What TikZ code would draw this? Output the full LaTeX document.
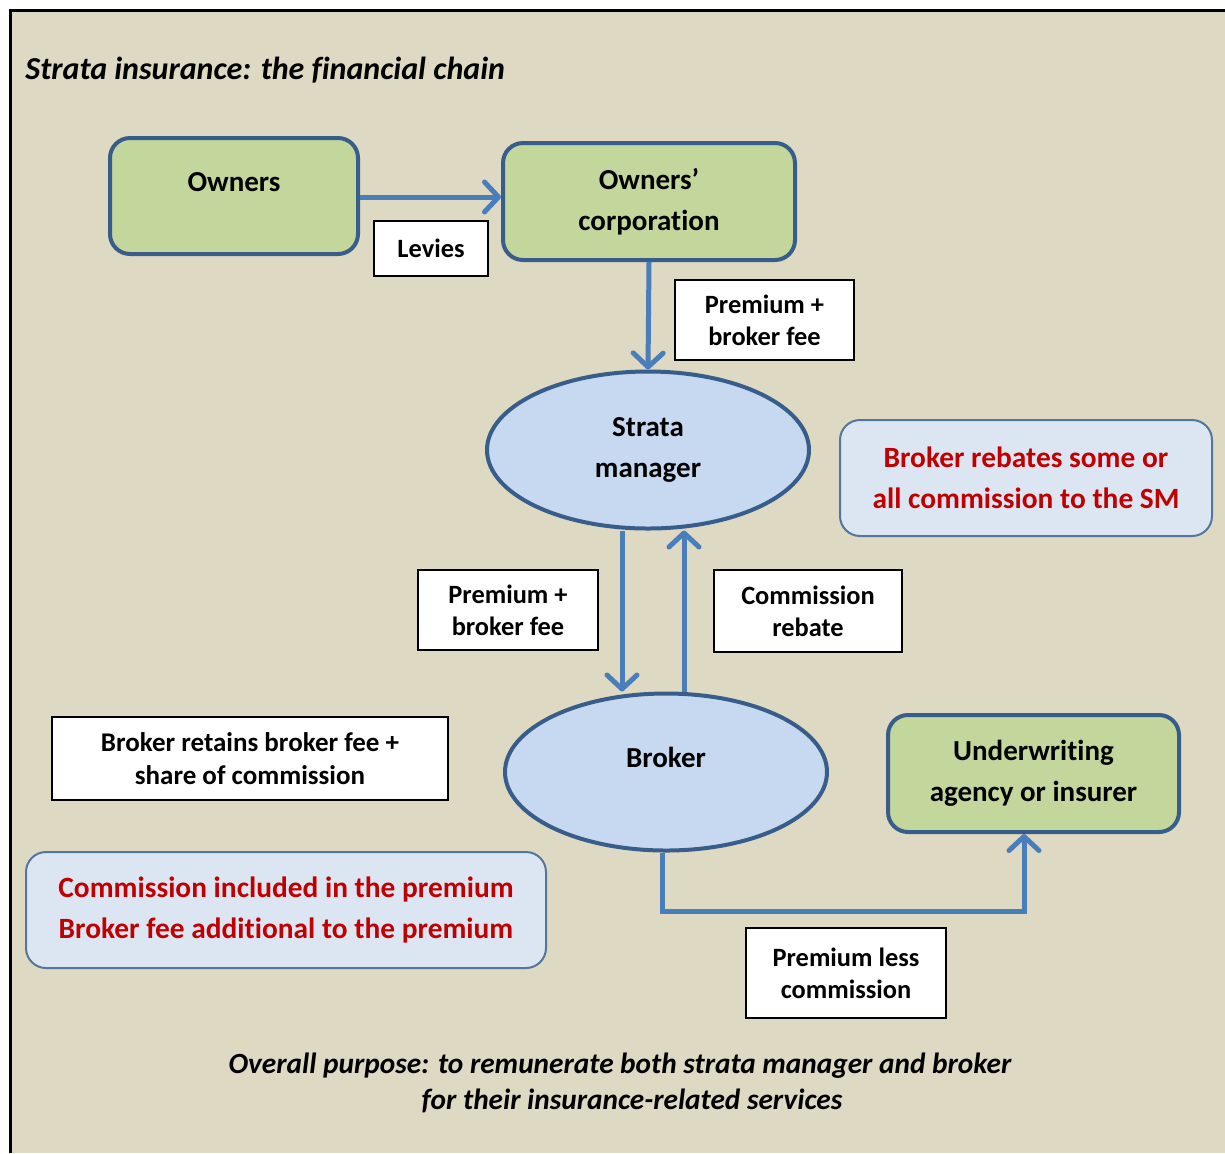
\documentclass[tikz,border=0pt]{standalone}
\usepackage{fontspec}
\setmainfont{Carlito}[Ligatures={NoCommon}]
\usetikzlibrary{arrows.meta,positioning,shapes.geometric,calc}
\definecolor{bgtan}{HTML}{DDD9C3}
\definecolor{leaf}{HTML}{C3D69B}
\definecolor{rim}{HTML}{385D8A}
\definecolor{flowblue}{HTML}{4A7EBB}
\definecolor{sky}{HTML}{C6D9F1}
\definecolor{pale}{HTML}{DCE6F2}
\definecolor{alert}{HTML}{C00000}

\begin{document}
\begin{tikzpicture}[x=0.5pt, y=-0.5pt, party/.style={draw=rim, line width=2pt, fill=leaf, rounded corners=10pt, inner sep=0pt, align=center, font=\fontsize{14.5}{20.5}\selectfont\bfseries}, hub/.style={ellipse, draw=rim, line width=2pt, fill=sky, minimum width=161pt, minimum height=78.5pt, inner sep=0pt, align=center, font=\fontsize{14.5}{20.5}\selectfont\bfseries}, tag/.style={draw, line width=0.6pt, fill=white, inner sep=0pt, align=center, font=\fontsize{13.2}{16}\selectfont\bfseries}, note/.style={draw=rim!85, line width=1pt, fill=pale, rounded corners=10pt, inner sep=0pt, align=center, text=alert, font=\fontsize{14.7}{20.5}\selectfont\bfseries}, flow/.style={flowblue, line width=2.5pt}, >={Straight Barb[length=7pt,width=15pt,round]}]
\useasboundingbox (0,0) rectangle (1225,1153);
\fill[bgtan] (10,10) rectangle (1225,1153);
\draw[line width=1.5pt] (10,1153) -- (10,10) -- (1225,10);
\node[anchor=west, inner sep=0pt, font=\fontsize{16}{19}\selectfont\bfseries\itshape] (title) at (25,70) {Strata insurance: the financial chain};
\node[party, minimum width=124pt, minimum height=58pt] (own) at (234,196) {Owners\\[-6pt]~};
\node[party, minimum width=146pt, minimum height=58.5pt] (oc) at (649,201.5) {Owners’\\corporation};
\node[hub] (sm) at (648,450) {Strata\\manager};
\node[hub] (brk) at (666,772) {Broker\\[-6pt]~};
\node[party, minimum width=145.5pt, minimum height=58.5pt] (uw) at (1033.5,773.5) {Underwriting\\agency or insurer};
\node[note, minimum width=186pt, minimum height=58pt] (rebnote) at (1026,478) {Broker rebates some or\\all commission to the SM};
\node[note, minimum width=260pt, minimum height=58pt] (feenote) at (286,910) {Commission included in the premium\\Broker fee additional to the premium};
\node[tag, minimum width=57pt, minimum height=27.5pt] (levies) at (431,248.5) {Levies};
\node[tag, minimum width=89.5pt, minimum height=40pt] (prem1) at (764.5,320) {Premium +\\broker fee};
\node[tag, minimum width=90pt, minimum height=40pt] (prem2) at (508,610) {Premium +\\broker fee};
\node[tag, minimum width=94pt, minimum height=41pt] (rebate) at (808,611) {Commission\\rebate};
\node[tag, minimum width=100pt, minimum height=45pt] (pless) at (846,973) {Premium less\\commission};
\node[tag, minimum width=198pt, minimum height=41.5pt, font=\fontsize{13.5}{16.5}\selectfont\bfseries] (retain) at (250,758.5) {Broker retains broker fee +\\share of commission};
\node[align=center, font=\fontsize{14.65}{18}\selectfont\bfseries\itshape] (purpose) at (620,1083) {Overall purpose: to remunerate both strata manager and broker\\\hspace*{12pt}for their insurance-related services};
\draw[flow, ->] ([yshift=-0.5pt]own.east) -- ([yshift=-0.5pt]own.east -| oc.west);
\draw[flow, ->] (oc.south) -- (sm.north);
\draw[flow, ->] ([xshift=-13pt]sm.south) -- ([xshift=-22pt]brk.north);
\draw[flow, ->] ([xshift=9pt]brk.north) -- ([xshift=18pt]sm.south);
\draw[flow, ->] ([xshift=-2pt]brk.south) -- ++(0,59) -| ([xshift=-4.75pt]uw.south);
\end{tikzpicture}
\end{document}
